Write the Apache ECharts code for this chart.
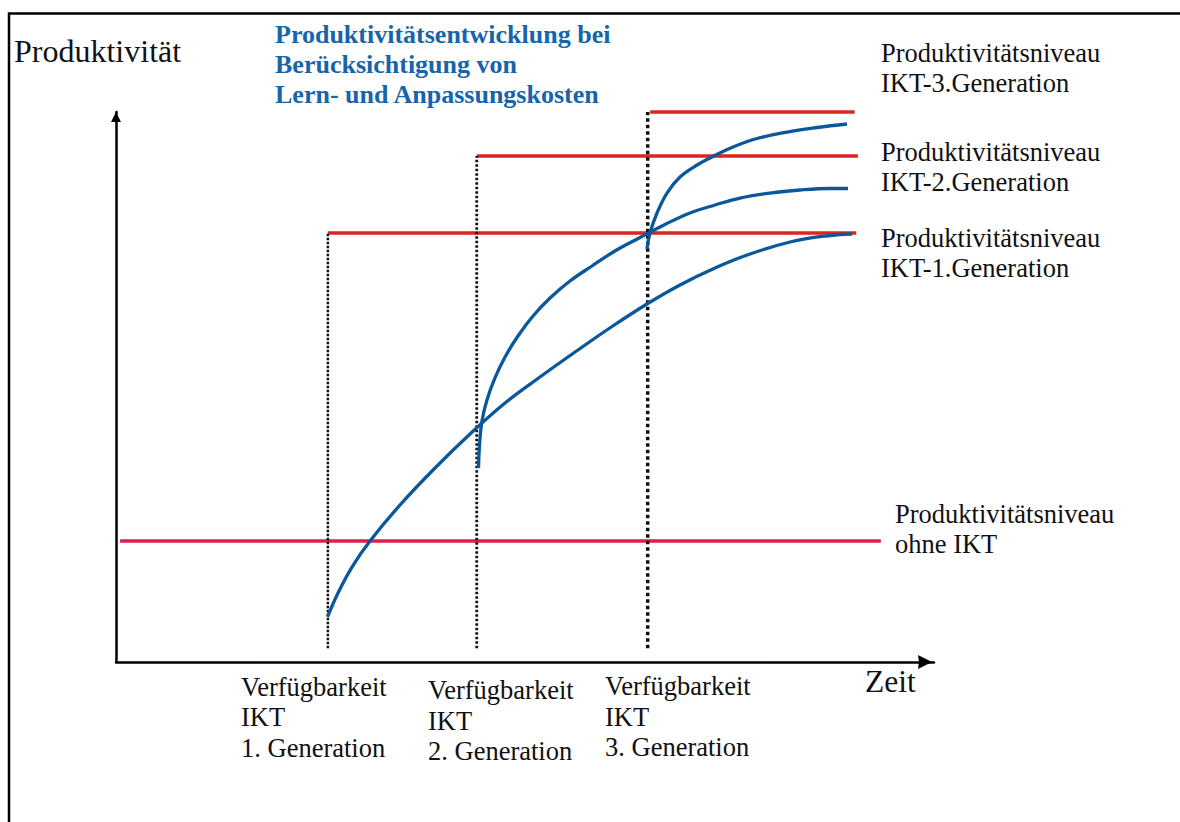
<!DOCTYPE html>
<html>
<head>
<meta charset="utf-8">
<script src="https://cdn.jsdelivr.net/npm/echarts@6/dist/echarts.min.js"></script>
<style>
html,body{margin:0;padding:0;background:#fff;}
#chart{width:1180px;height:822px;}
</style>
</head>
<body>
<div id="chart"></div>
<script>
// ---- data (time units on x, productivity units on y) ----
const levelNames = ['ohne IKT', 'IKT-1.Generation', 'IKT-2.Generation', 'IKT-3.Generation'];
const levelValues = [22, 78, 92, 100];
const levelStart = [0.5, 25.9, 44.1, 65.3];
const levelEnd = [93.5, 90.5, 90.7, 90.3];

const genNames = ['1. Generation', '2. Generation', '3. Generation'];
const genTimes = [25.9, 44.1, 65.0];
const genTops = [78, 92, 100];
const dottedBottom = 2.5;

const curveGen1 = [[25.86,8.2],[27.14,12.55],[28.85,17.27],[31.05,22.0],[34.72,28.55],[39.0,35.27],[43.28,41.45],[47.56,47.09],[51.83,51.82],[56.48,56.73],[60.64,61.0],[64.91,65.09],[68.95,68.55],[73.23,71.64],[77.51,74.18],[82.4,76.36],[86.67,77.45],[89.98,77.82]];
const curveGen2 = [[44.32,35.27],[44.44,39.45],[44.74,43.82],[45.35,47.64],[46.33,51.64],[47.56,55.45],[49.14,59.27],[50.98,62.91],[53.06,66.18],[55.5,69.27],[58.19,72.0],[61.0,74.73],[64.06,77.18],[67.11,79.55],[70.17,81.64],[73.23,83.09],[76.28,84.36],[79.95,85.27],[83.62,85.82],[87.29,86.09],[89.49,86.09]];
const curveGen3 = [[64.91,75.09],[65.28,78.0],[66.14,81.64],[67.36,85.27],[68.95,88.18],[71.03,90.36],[72.86,91.82],[75.43,93.64],[78.36,95.18],[82.03,96.36],[85.7,97.18],[89.36,97.82]];

const titleLines = ['Produktivitätsentwicklung bei', 'Berücksichtigung von', 'Lern- und Anpassungskosten'];
const yName = 'Produktivität';
const xName = 'Zeit';

// ---- styles ----
const SERIF = 'Liberation Serif';
const BLUE = '#0b579c';
const RED = '#da2520';
const CRIMSON = '#d8204c';
const TITLE_BLUE = '#1764ab';

const series = [];
// level lines
levelValues.forEach((v, i) => {
  series.push({
    type: 'line', name: levelNames[i], showSymbol: false, symbol: 'none', clip: false, silent: true,
    data: [[levelStart[i], v], [levelEnd[i], v]],
    lineStyle: { color: i === 0 ? CRIMSON : RED, width: 3.5 }, z: 2
  });
});
// dotted availability lines
const dotW = [2.5, 2.8, 3.5];
const dotDash = [[2.4, 1.6], [2.6, 1.9], [3.5, 3]];
genTimes.forEach((t, i) => {
  series.push({
    type: 'line', showSymbol: false, symbol: 'none', clip: false, silent: true,
    data: [[t, dottedBottom], [t, genTops[i]]],
    lineStyle: { color: '#111', width: dotW[i], type: dotDash[i] }, z: 3
  });
});
// productivity curves
[curveGen1, curveGen2, curveGen3].forEach((d) => {
  series.push({
    type: 'line', showSymbol: false, symbol: 'none', clip: false, silent: true,
    smooth: 0.4,
    data: d, lineStyle: { color: BLUE, width: 3.3, cap: 'butt' }, z: 4
  });
});

function label(x, baseline, lines, size, opts) {
  opts = opts || {};
  const lh = opts.lh || 30;
  return {
    type: 'text', x: x, y: baseline - 0.31 * size - lh / 2, z: 10, silent: true,
    style: {
      text: lines.join('\n'),
      fontFamily: SERIF,
      fontSize: size,
      fontWeight: opts.weight || 'normal',
      fill: opts.color || '#111',
      lineHeight: lh,
      align: 'left', verticalAlign: 'top'
    }
  };
}

const graphics = [
  { type: 'rect', shape: { x: 9, y: 13.5, width: 1400, height: 1000 }, style: { fill: 'none', stroke: '#000', lineWidth: 2.5 }, silent: true, z: 0 },
  label(14, 61, [yName], 32, { lh: 32 }),
  label(865, 691.7, [xName], 31.5, { lh: 32 }),
  label(275, 42.7, titleLines, 26, { lh: 29.7, weight: 'bold', color: TITLE_BLUE }),
  label(881, 61.7, ['Produktivitätsniveau', levelNames[3]], 26.5),
  label(881, 160, ['Produktivitätsniveau', levelNames[2]], 26.5),
  label(881, 246.7, ['Produktivitätsniveau', levelNames[1]], 26.5),
  label(895, 522.7, ['Produktivitätsniveau', levelNames[0]], 26.5),
  label(241, 695, ['Verfügbarkeit', 'IKT', genNames[0]], 26.5, { lh: 30.5 }),
  label(428, 698.5, ['Verfügbarkeit', 'IKT', genNames[1]], 26.5, { lh: 30.5 }),
  label(605, 694.5, ['Verfügbarkeit', 'IKT', genNames[2]], 26.5, { lh: 30.5 })
];

const chart = echarts.init(document.getElementById('chart'), null, { renderer: 'svg' });
chart.setOption({
  animation: false,
  backgroundColor: '#ffffff',
  grid: { left: 116, top: 112, right: 246, bottom: 160, containLabel: false },
  xAxis: {
    type: 'value', min: 0, max: 100,
    axisLine: { show: true, onZero: true, lineStyle: { color: '#000', width: 2.5 },
      symbol: ['none', 'path://M5 0 L10 10 L5 9.3 L0 10 Z'], symbolSize: [14, 18], symbolOffset: [0, -9] },
    axisTick: { show: false }, axisLabel: { show: false }, splitLine: { show: false }
  },
  yAxis: {
    type: 'value', min: 0, max: 100,
    axisLine: { show: true, onZero: true, lineStyle: { color: '#000', width: 2.5 },
      symbol: ['none', 'path://M5 0 L10 10 L0 10 Z'], symbolSize: [15, 10], symbolOffset: [0, -5] },
    axisTick: { show: false }, axisLabel: { show: false }, splitLine: { show: false }
  },
  series: series,
  graphic: graphics
});
</script>
</body>
</html>
